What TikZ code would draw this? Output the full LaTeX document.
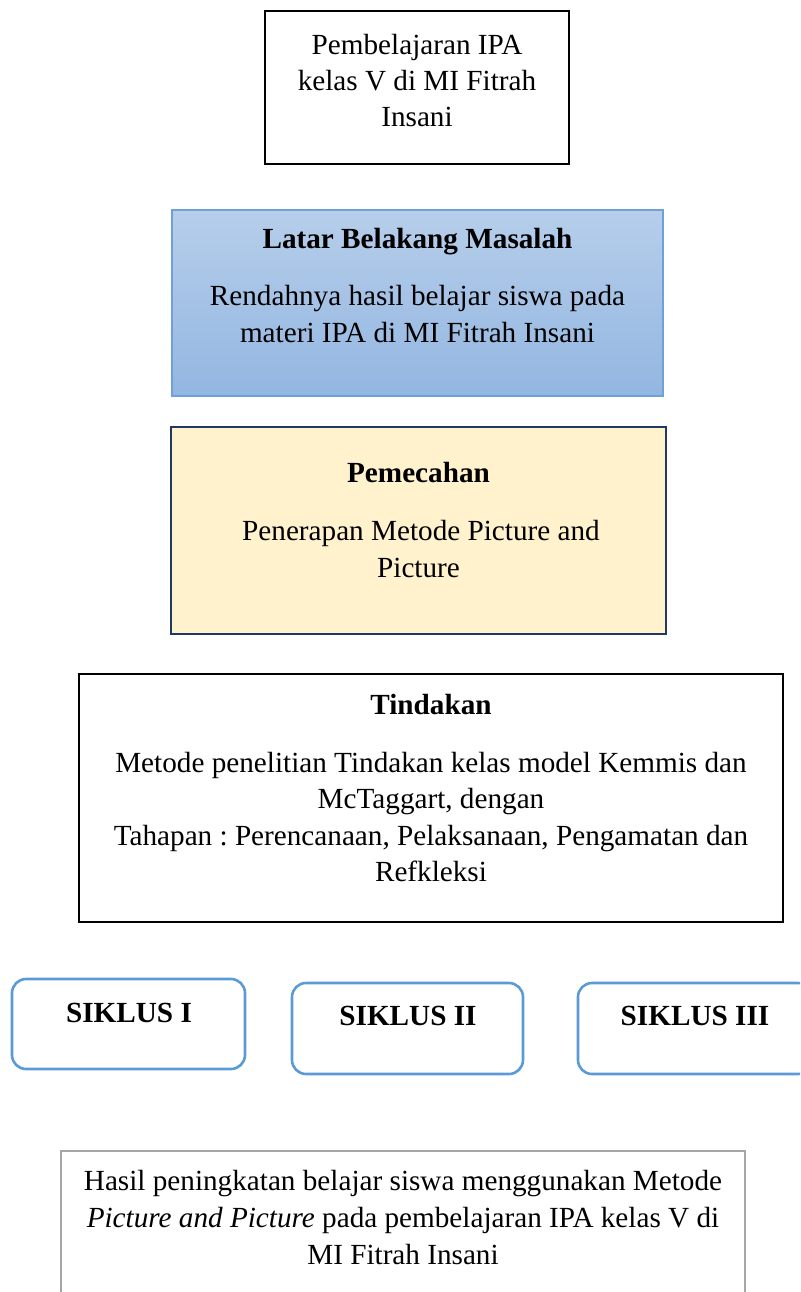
\documentclass[tikz,border=0pt]{standalone}
\usepackage{fontspec}
\setmainfont{Liberation Serif}
\usetikzlibrary{fit}
\frenchspacing
\definecolor{blueTop}{HTML}{B6CEEA}
\definecolor{blueBot}{HTML}{93B6E1}
\definecolor{blueBorder}{HTML}{6FA0D8}
\definecolor{yellowFill}{HTML}{FFF2CC}
\definecolor{navy}{HTML}{203864}
\definecolor{siklusBlue}{HTML}{5B9BD5}
\definecolor{grayBorder}{HTML}{A6A6A6}
\begin{document}
\frenchspacing
\begin{tikzpicture}[x=0.5pt,y=-0.5pt,
  frame/.style={inner sep=0pt, outer sep=0pt},
  blackbox/.style={frame, draw=black, line width=1.2pt},
  bluebox/.style={frame, draw=blueBorder, line width=0.6pt, top color=blueTop, bottom color=blueBot},
  yellowbox/.style={frame, draw=navy, line width=1pt, fill=yellowFill},
  siklusbox/.style={frame, draw=siklusBlue, line width=1.3pt, rounded corners=7pt},
  graybox/.style={frame, draw=grayBorder, line width=1.3pt},
  txt/.style={anchor=base, inner sep=0pt, font=\fontsize{14.6pt}{18.5pt}\selectfont},
  ttl/.style={txt, font=\fontsize{14.6pt}{18.5pt}\selectfont\bfseries}]
\clip (0,0) rectangle (800,1292);
\useasboundingbox (0,0) rectangle (800,1292);

% top box
\node[blackbox, fit={(265,11) (569,164)}] (top) {};
\node[txt] (top1) at (417,54) {Pembelajaran IPA};
\node[txt] (top2) at (417,90) {kelas V di MI Fitrah};
\node[txt] (top3) at (417,126) {Insani};

% latar belakang
\node[bluebox, fit={(172,210) (663,396)}] (latar) {};
\node[ttl] (latar0) at (417.5,248) {Latar Belakang Masalah};
\node[txt] (latar1) at (417.5,305) {Rendahnya hasil belajar siswa pada};
\node[txt] (latar2) at (417.5,342) {materi IPA di MI Fitrah Insani};

% pemecahan
\node[yellowbox, fit={(171,427) (666,634)}] (pemecahan) {};
\node[ttl] (pem0) at (418.5,482) {Pemecahan};
\node[txt] (pem1) at (421,540) {Penerapan Metode Picture and};
\node[txt] (pem2) at (418.5,577) {Picture};

% tindakan
\node[blackbox, fit={(79,674) (783,922)}] (tindakan) {};
\node[ttl] (tin0) at (431,714) {Tindakan};
\node[txt] (tin1) at (431,772) {Metode penelitian Tindakan kelas model Kemmis dan};
\node[txt] (tin2) at (431,808) {McTaggart, dengan};
\node[txt] (tin3) at (431,845) {Tahapan : Perencanaan, Pelaksanaan, Pengamatan dan};
\node[txt] (tin4) at (431,881) {Refkleksi};

% siklus
\node[siklusbox, fit={(12,979) (245,1069)}] (s1) {};
\node[ttl] (s1t) at (129,1022) {SIKLUS I};
\node[siklusbox, fit={(292,983) (523,1074)}] (s2) {};
\node[ttl] (s2t) at (408,1025) {SIKLUS II};
\node[siklusbox, fit={(578,983) (812,1074)}] (s3) {};
\node[ttl] (s3t) at (695,1025) {SIKLUS III};

% hasil
\node[graybox, fit={(61,1151) (745,1320)}] (hasil) {};
\node[txt] (has1) at (403,1190) {Hasil peningkatan belajar siswa menggunakan Metode};
\node[txt] (has2) at (403,1227) {\textit{Picture and Picture} pada pembelajaran IPA kelas V di};
\node[txt] (has3) at (403,1264) {MI Fitrah Insani};
\end{tikzpicture}
\end{document}
